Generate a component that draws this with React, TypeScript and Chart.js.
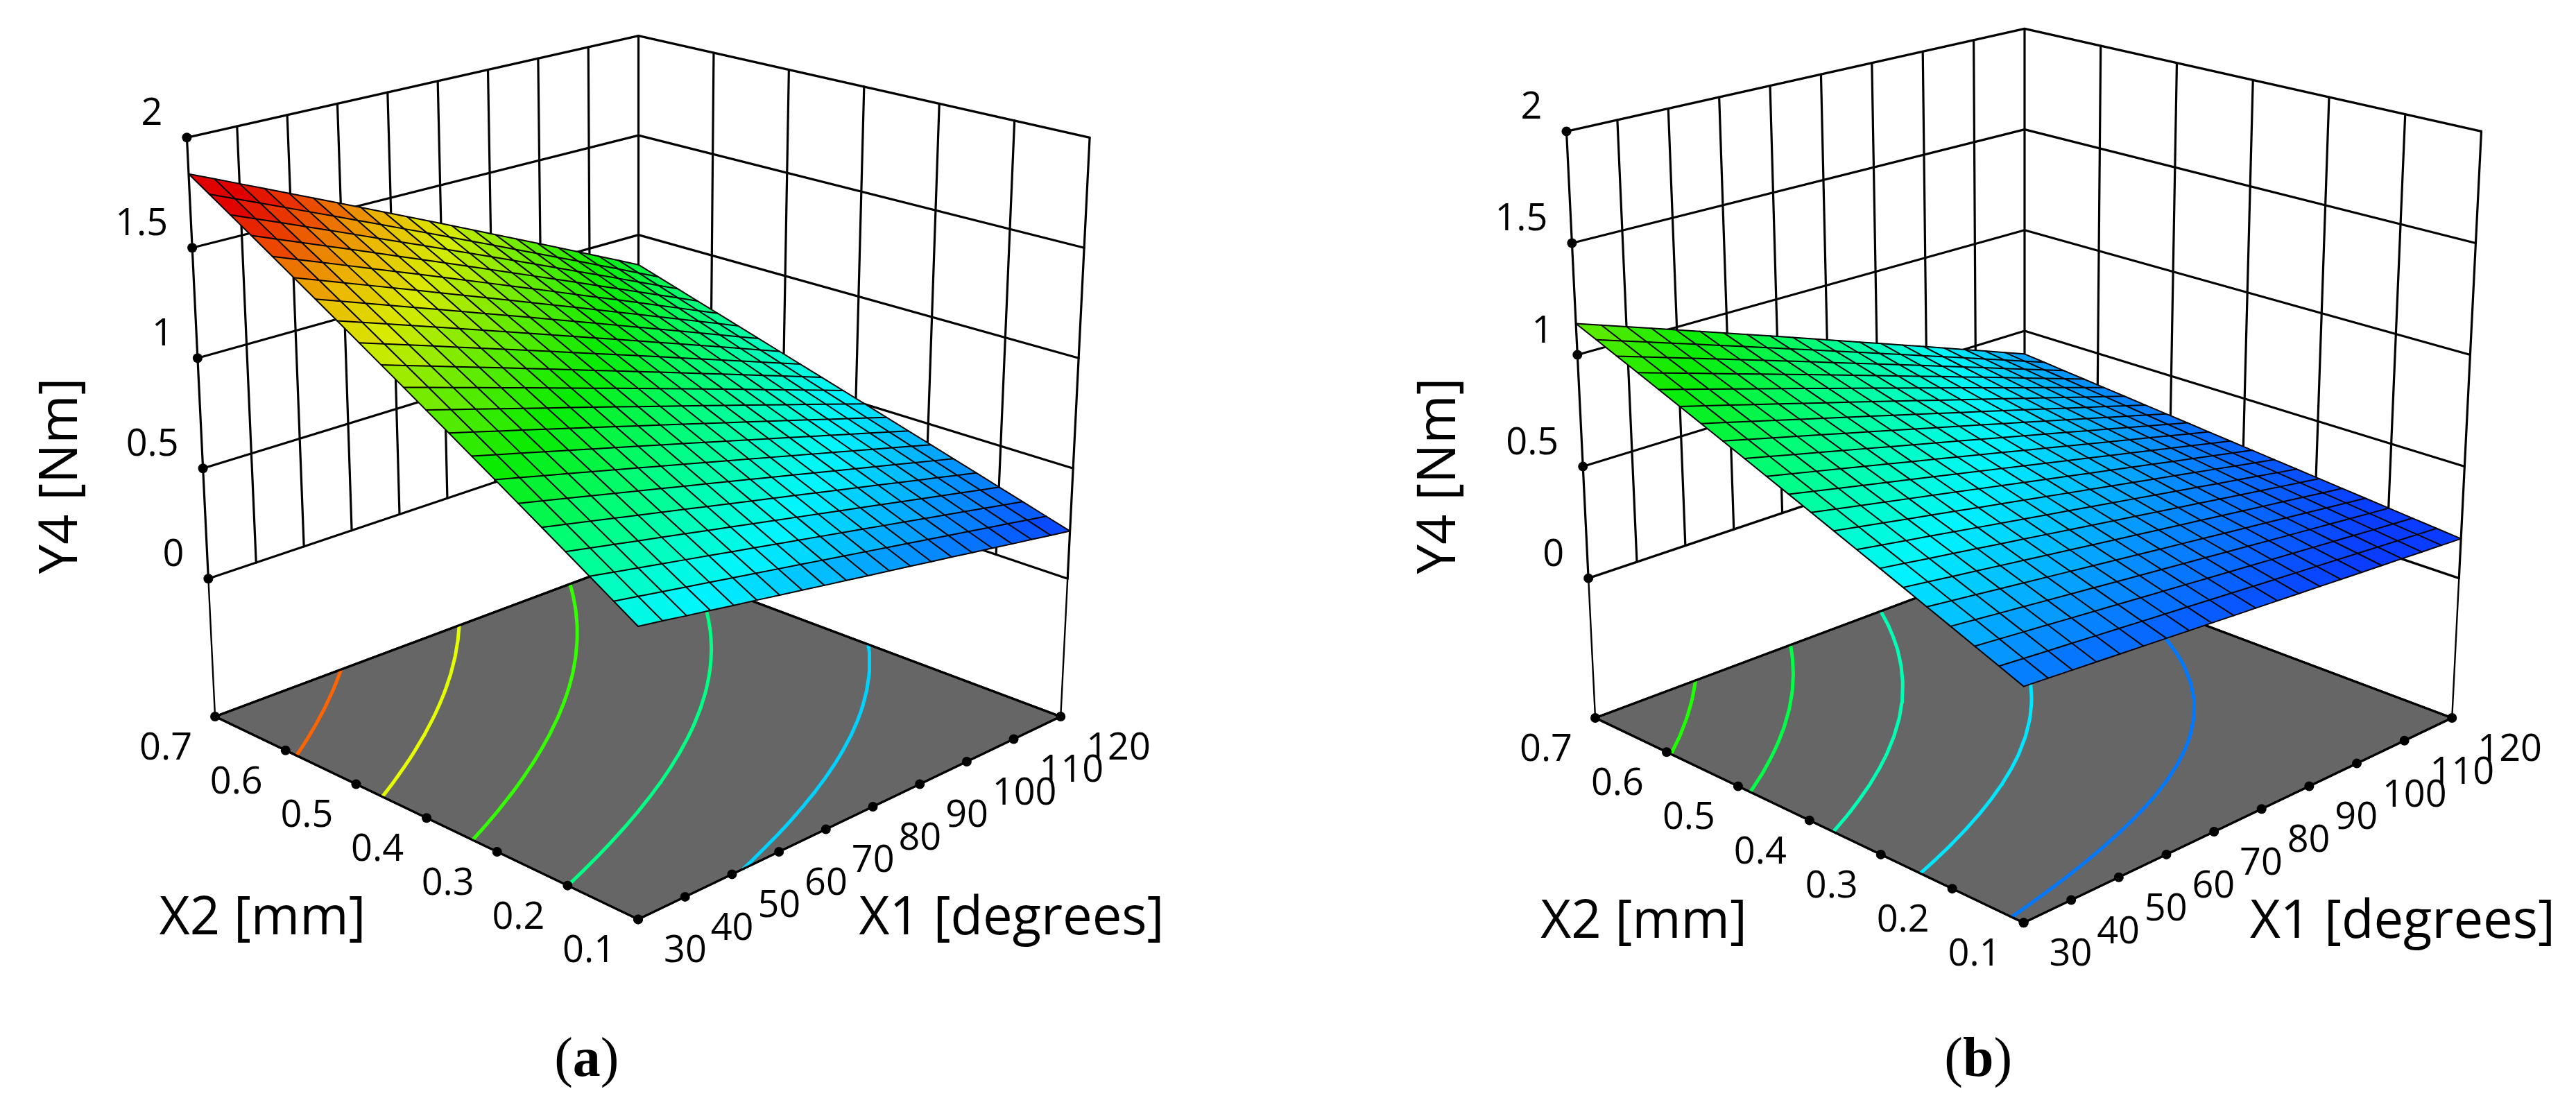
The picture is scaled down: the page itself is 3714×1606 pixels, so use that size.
import React, { useEffect, useRef } from "react";
import { Chart, registerables } from "chart.js";

Chart.register(...registerables);

const X1_TICKS = [30, 40, 50, 60, 70, 80, 90, 100, 110, 120];
const X2_TICKS = [0.1, 0.2, 0.3, 0.4, 0.5, 0.6, 0.7];
const Y4_TICKS = [0, 0.5, 1, 1.5, 2];
const Y4_TICK_TEXT = ["0", "0.5", "1", "1.5", "2"];
const X2_TICK_TEXT = ["0.1", "0.2", "0.3", "0.4", "0.5", "0.6", "0.7"];
const X1_TICK_TEXT = ["30", "40", "50", "60", "70", "80", "90", "100", "110", "120"];
const X1_GRID = [30, 34.5, 39, 43.5, 48, 52.5, 57, 61.5, 66, 70.5, 75, 79.5, 84, 88.5, 93, 97.5, 102, 106.5, 111, 115.5, 120];
const X2_GRID = [0.1, 0.13, 0.16, 0.19, 0.22, 0.25, 0.28, 0.31, 0.34, 0.37, 0.4, 0.43, 0.46, 0.49, 0.52, 0.55, 0.58, 0.61, 0.64, 0.67, 0.7];

// One row per X2_GRID value, one column per X1_GRID value. Y4 in Nm.
const SURFACE_A = [
  [.565,.548,.530,.513,.495,.478,.460,.443,.425,.408,.390,.373,.356,.338,.321,.303,.286,.268,.251,.233,.216],
  [.6285,.6095,.5904,.5714,.5523,.5333,.5143,.4952,.4762,.4571,.4381,.4191,.4000,.3810,.3619,.3429,.3239,.3048,.2858,.2667,.2477],
  [.692,.6714,.6507,.6301,.6095,.5889,.5682,.5476,.5270,.5063,.4857,.4651,.4444,.4238,.4032,.3826,.3619,.3413,.3207,.3000,.2794],
  [.7555,.7333,.7111,.6888,.6666,.6444,.6222,.6000,.5777,.5555,.5333,.5111,.4889,.4666,.4444,.4222,.4000,.3778,.3555,.3333,.3111],
  [.819,.7952,.7714,.7476,.7238,.7,.6761,.6523,.6285,.6047,.5809,.5571,.5333,.5095,.4857,.4619,.4380,.4142,.3904,.3666,.3428],
  [.8825,.8571,.8317,.8063,.7809,.7555,.7301,.7047,.6793,.6539,.6285,.6031,.5777,.5523,.5269,.5015,.4761,.4507,.4253,.3999,.3745],
  [.946,.9190,.8920,.8650,.8380,.8111,.7841,.7571,.7301,.7031,.6761,.6491,.6221,.5951,.5681,.5412,.5142,.4872,.4602,.4332,.4062],
  [1.0095,.9809,.9523,.9238,.8952,.8666,.8380,.8094,.7809,.7523,.7237,.6951,.6665,.6380,.6094,.5808,.5522,.5236,.4951,.4665,.4379],
  [1.073,1.0428,1.0127,.9825,.9523,.9222,.8920,.8618,.8316,.8015,.7713,.7411,.7110,.6808,.6506,.6205,.5903,.5601,.5299,.4998,.4696],
  [1.1365,1.1047,1.0730,1.0412,1.0095,.9777,.9459,.9142,.8824,.8507,.8189,.7871,.7554,.7236,.6919,.6601,.6283,.5966,.5648,.5331,.5013],
  [1.2,1.1667,1.1333,1.0999,1.0666,1.0333,.9999,.9666,.9332,.8999,.8665,.8332,.7998,.7665,.7331,.6998,.6664,.6331,.5997,.5664,.533],
  [1.2635,1.2286,1.1936,1.1587,1.1237,1.0888,1.0539,1.0189,.9840,.9490,.9141,.8792,.8442,.8093,.7743,.7394,.7045,.6695,.6346,.5996,.5647],
  [1.327,1.2905,1.2539,1.2174,1.1809,1.1444,1.1078,1.0713,1.0348,.9982,.9617,.9252,.8886,.8521,.8156,.7791,.7425,.7060,.6695,.6329,.5964],
  [1.3905,1.3524,1.3143,1.2761,1.238,1.1999,1.1618,1.1237,1.0855,1.0474,1.0093,.9712,.9331,.8949,.8568,.8187,.7806,.7425,.7043,.6662,.6281],
  [1.454,1.4143,1.3746,1.3349,1.2952,1.2555,1.2157,1.1760,1.1363,1.0966,1.0569,1.0172,.9775,.9378,.8981,.8584,.8186,.7789,.7392,.6995,.6598],
  [1.5175,1.4762,1.4349,1.3936,1.3523,1.311,1.2697,1.2284,1.1871,1.1458,1.1045,1.0632,1.0219,.9806,.9393,.8980,.8567,.8154,.7741,.7328,.6915],
  [1.581,1.5381,1.4952,1.4523,1.4094,1.3666,1.3237,1.2808,1.2379,1.1950,1.1521,1.1092,1.0663,1.0234,.9805,.9377,.8948,.8519,.8090,.7661,.7232],
  [1.6445,1.6,1.5555,1.5111,1.4666,1.4221,1.3776,1.3331,1.2887,1.2442,1.1997,1.1552,1.1107,1.0663,1.0218,.9773,.9328,.8883,.8439,.7994,.7549],
  [1.708,1.6619,1.6159,1.5698,1.5237,1.4777,1.4316,1.3855,1.3394,1.2934,1.2473,1.2012,1.1552,1.1091,1.063,1.0170,.9709,.9248,.8787,.8327,.7866],
  [1.7715,1.7238,1.6762,1.6285,1.5809,1.5332,1.4855,1.4379,1.3902,1.3426,1.2949,1.2472,1.1996,1.1519,1.1043,1.0566,1.0089,.9613,.9136,.8660,.8183],
  [1.835,1.7858,1.7365,1.6873,1.638,1.5888,1.5395,1.4903,1.441,1.3918,1.3425,1.2933,1.244,1.1948,1.1455,1.0963,1.047,.9978,.9485,.8993,.85],
];

const SURFACE_B = [
  [.317,.31,.303,.296,.289,.282,.275,.268,.261,.254,.247,.24,.233,.226,.219,.212,.205,.198,.191,.184,.177],
  [.3582,.3496,.3411,.3326,.3240,.3155,.3069,.2984,.2899,.2813,.2728,.2643,.2557,.2472,.2386,.2301,.2216,.2130,.2045,.1959,.1874],
  [.3993,.3892,.3791,.3691,.359,.3489,.3388,.3287,.3187,.3086,.2985,.2884,.2783,.2683,.2582,.2481,.238,.2279,.2179,.2078,.1978],
  [.4405,.4289,.4173,.4057,.3941,.3824,.3708,.3592,.3476,.3360,.3244,.3128,.3012,.2896,.2779,.2663,.2547,.2431,.2315,.2199,.2082],
  [.4816,.4685,.4553,.4422,.429,.4159,.4027,.3896,.3764,.3633,.3501,.337,.3238,.3107,.2975,.2844,.2712,.2581,.2449,.2318,.2186],
  [.5228,.5081,.4934,.4787,.464,.4493,.4346,.4200,.4053,.3906,.3759,.3612,.3465,.3318,.3171,.3025,.2878,.2731,.2584,.2437,.229],
  [.5639,.5477,.5314,.5152,.499,.4828,.4665,.4503,.4341,.4178,.4016,.3854,.3692,.3529,.3367,.3205,.3042,.288,.2718,.2556,.2394],
  [.6051,.5873,.5695,.5518,.534,.5162,.4985,.4807,.4630,.4452,.4275,.4097,.3919,.3742,.3564,.3387,.3209,.3031,.2854,.2676,.2498],
  [.6462,.6269,.6076,.5883,.569,.5497,.5304,.5111,.4918,.4725,.4532,.4339,.4146,.3953,.376,.3567,.3374,.3181,.2988,.2795,.2602],
  [.6874,.6666,.6457,.6249,.6040,.5832,.5624,.5415,.5207,.4998,.479,.4582,.4373,.4165,.3956,.3748,.354,.3331,.3123,.2914,.2706],
  [.7285,.7061,.6837,.6614,.639,.6166,.5942,.5718,.5495,.5271,.5047,.4823,.46,.4376,.4152,.3928,.3704,.3481,.3257,.3033,.281],
  [.7697,.7458,.7219,.6979,.674,.6501,.6262,.6023,.5783,.5544,.5305,.5066,.4827,.4587,.4348,.4109,.387,.3631,.3391,.3152,.2914],
  [.8108,.7854,.7599,.7345,.709,.6836,.6581,.6327,.6072,.5818,.5563,.5309,.5054,.48,.4545,.4291,.4036,.3782,.3527,.3273,.3018],
  [.852,.825,.798,.771,.744,.7171,.6901,.6631,.6361,.6091,.5821,.5551,.5281,.5011,.4741,.4472,.4202,.3932,.3662,.3392,.3122],
  [.8931,.8646,.8360,.8075,.779,.7505,.7219,.6934,.6649,.6363,.6078,.5793,.5507,.5222,.4937,.4652,.4366,.4081,.3796,.351,.3226],
  [.9343,.9042,.8742,.8441,.814,.7839,.7539,.7238,.6937,.6637,.6336,.6035,.5735,.5434,.5133,.4833,.4532,.4231,.393,.363,.333],
  [.9754,.9438,.9122,.8806,.849,.8174,.7858,.7542,.7226,.691,.6594,.6278,.5962,.5646,.533,.5014,.4698,.4382,.4066,.375,.3434],
  [1.0166,.9835,.9503,.9172,.8840,.8509,.8178,.7846,.7515,.7183,.6852,.6521,.6189,.5858,.5526,.5195,.4864,.4532,.4201,.3869,.3538],
  [1.0577,1.023,.9883,.9537,.919,.8843,.8496,.8149,.7803,.7456,.7109,.6762,.6415,.6069,.5722,.5375,.5028,.4681,.4335,.3988,.3642],
  [1.0989,1.0627,1.0265,.9902,.954,.9178,.8816,.8454,.8091,.7729,.7367,.7005,.6643,.628,.5918,.5556,.5194,.4832,.4469,.4107,.3746],
  [1.14,1.1023,1.0645,1.0268,.989,.9513,.9135,.8758,.838,.8003,.7625,.7248,.687,.6493,.6115,.5738,.536,.4983,.4605,.4228,.385],
];

const CONTOUR_LEVELS_A = [0.486, 0.756, 1.026, 1.296, 1.566];
const CONTOUR_LEVELS_B = [0.3375, 0.498, 0.6585, 0.819, 0.9795];
const CONTOUR_COLORS_A = ["#00d2ff", "#00ff84", "#34ff00", "#e6ff00", "#ff6400"];
const CONTOUR_COLORS_B = ["#0078ff", "#00e6ff", "#00ffb4", "#00ff46", "#1eff00"];

// Palette stops shared by both surfaces: [fraction of the range, r, g, b]
const COLOR_MIN = 0.216;
const COLOR_SPAN = 1.62;
const PALETTE = [
  [0, 10, 60, 255], [0.2, 0, 245, 255], [0.27, 0, 255, 190], [0.33, 0, 255, 130], [0.46, 10, 235, 0],
  [0.57, 110, 235, 0], [0.67, 215, 235, 0], [0.75, 235, 185, 0], [0.85, 235, 70, 0], [0.93, 225, 0, 0], [1, 225, 0, 0],
];

const FLOOR_Z = -0.625;
const TOP_Z = 2;

type P = [number, number];
type Panel = {
  surface: number[][]; levels: number[]; colors: string[]; caption: string;
  F: P; R: P; L: P; B: P; Ft: P; Rt: P; Lt: P; Bt: P;
  x2Title: P; x1Title: P; yTitle: P; captionAt: P;
};

const PANEL_A: Panel = {
  surface: SURFACE_A, levels: CONTOUR_LEVELS_A, colors: CONTOUR_COLORS_A, caption: "a",
  F: [916.5, 1330], R: [1528, 1035], L: [304.2, 1035], B: [917, 805],
  Ft: [916.5, 390], Rt: [1570, 193], Lt: [263.4, 193], Bt: [917, 45],
  x2Title: [373, 1330], x1Title: [1457, 1330], yTitle: [83, 685], captionAt: [842, 1533],
};
const PANEL_B: Panel = {
  surface: SURFACE_B, levels: CONTOUR_LEVELS_B, colors: CONTOUR_COLORS_B, caption: "b",
  F: [2921.6, 1335], R: [3541.6, 1037], L: [2301.7, 1037], B: [2923, 803.6],
  Ft: [2921.6, 377], Rt: [3584, 184], Lt: [2260, 184], Bt: [2923, 34.7],
  x2Title: [2372, 1335], x1Title: [3470, 1335], yTitle: [2077, 685], captionAt: [2856, 1533],
};

const WIDTH = 3714;
const HEIGHT = 1606;
const WARP = 0.887;
const TEXT_FONT = '"Open Sans"';
const TICK_SIZE = 54;
const TITLE_SIZE = 76;

function mix(a: number, b: number, t: number) { return a + (b - a) * t; }
function project(p: Panel, x1: number, x2: number, z: number, warped = false) {
  let u = (x1 - 30) / 90;
  let v = (x2 - 0.1) / 0.6;
  const w = (z - FLOOR_Z) / (TOP_Z - FLOOR_Z);
  if (warped) {
    u = u / (u + WARP * (1 - u));
    v = v / (v + WARP * (1 - v));
  }
  const pick = (k: 0 | 1) => {
    const low = mix(mix(p.F[k], p.R[k], u), mix(p.L[k], p.B[k], u), v);
    const high = mix(mix(p.Ft[k], p.Rt[k], u), mix(p.Lt[k], p.Bt[k], u), v);
    return mix(low, high, w);
  };
  return { x: pick(0), y: pick(1) };
}
function colorFor(z: number) {
  const t = Math.max(0, Math.min(1, (z - COLOR_MIN) / COLOR_SPAN));
  for (let i = 1; i < PALETTE.length; i++) {
    if (t <= PALETTE[i][0]) {
      const a = PALETTE[i - 1], b = PALETTE[i];
      const f = (t - a[0]) / (b[0] - a[0]);
      return `rgb(${Math.round(mix(a[1], b[1], f))},${Math.round(mix(a[2], b[2], f))},${Math.round(mix(a[3], b[3], f))})`;
    }
  }
  return "rgb(225,0,0)";
}
function contourPath(surface: number[][], level: number) {
  const pts: { a: number; b: number }[] = [];
  for (let j = 0; j < X2_GRID.length; j++) {
    for (let i = 0; i < X1_GRID.length - 1; i++) {
      const p = surface[j][i], q = surface[j][i + 1];
      if ((p - level) * (q - level) <= 0 && p !== q) pts.push({ a: mix(X1_GRID[i], X1_GRID[i + 1], (level - p) / (q - p)), b: X2_GRID[j] });
    }
  }
  for (let i = 0; i < X1_GRID.length; i++) {
    for (let j = 0; j < X2_GRID.length - 1; j++) {
      const p = surface[j][i], q = surface[j + 1][i];
      if ((p - level) * (q - level) <= 0 && p !== q) pts.push({ a: X1_GRID[i], b: mix(X2_GRID[j], X2_GRID[j + 1], (level - p) / (q - p)) });
    }
  }
  pts.sort((m, n) => m.b - n.b || m.a - n.a);
  return pts;
}

function line(data: any[], color: string, width: number, extra: any = {}) {
  return { type: "scatter", data, showLine: true, borderColor: color, borderWidth: width, pointRadius: 0, tension: 0, fill: false, borderCapStyle: "round", borderJoinStyle: "round", ...extra };
}

function panelDatasets(p: Panel) {
  const out: any[] = [];
  const X2_BACK = X2_TICKS[X2_TICKS.length - 1];
  const X1_BACK = X1_TICKS[X1_TICKS.length - 1];
  const X2_FRONT = X2_TICKS[0];
  const X1_FRONT = X1_TICKS[0];
  for (const z of Y4_TICKS) {
    out.push(line([project(p, X1_FRONT, X2_BACK, z), project(p, X1_BACK, X2_BACK, z), project(p, X1_BACK, X2_FRONT, z)], "#000", 3.2));
  }
  for (const x1 of X1_TICKS) {
    out.push(line([project(p, x1, X2_BACK, TOP_Z), project(p, x1, X2_BACK, 0)], "#000", 3.2));
  }
  for (const x2 of X2_TICKS) {
    if (x2 === X2_BACK) continue;
    out.push(line([project(p, X1_BACK, x2, TOP_Z), project(p, X1_BACK, x2, 0)], "#000", 3.2));
  }
  out.push(line([project(p, X1_FRONT, X2_BACK, 0), project(p, X1_FRONT, X2_BACK, FLOOR_Z)], "#000", 2.4));
  out.push(line([project(p, X1_BACK, X2_FRONT, 0), project(p, X1_BACK, X2_FRONT, FLOOR_Z)], "#000", 2.4));
  out.push(line([project(p, X1_BACK, X2_BACK, 0), project(p, X1_BACK, X2_BACK, FLOOR_Z)], "#000", 3.2));
  // floor
  const floor = [
    project(p, X1_FRONT, X2_FRONT, FLOOR_Z), project(p, X1_BACK, X2_FRONT, FLOOR_Z),
    project(p, X1_BACK, X2_BACK, FLOOR_Z), project(p, X1_FRONT, X2_BACK, FLOOR_Z), project(p, X1_FRONT, X2_FRONT, FLOOR_Z),
  ];
  out.push(line(floor, "#000", 3, { fill: "shape", backgroundColor: "#666666" }));
  // contours
  p.levels.forEach((lv, k) => {
    const path = contourPath(p.surface, lv).map((q) => project(p, q.a, q.b, FLOOR_Z, true));
    out.push(line(path, p.colors[k], 5, { borderCapStyle: "butt" }));
  });
  out.push(line(floor, "#000", 3.2));
  // tick dots
  const dots = [
    ...X1_TICKS.map((x) => project(p, x, X2_FRONT, FLOOR_Z)),
    ...X2_TICKS.map((x) => project(p, X1_FRONT, x, FLOOR_Z)),
    ...Y4_TICKS.map((z) => project(p, X1_FRONT, X2_BACK, z)),
  ];
  out.push({ type: "scatter", data: dots, showLine: false, pointRadius: 7, pointBackgroundColor: "#000", pointBorderWidth: 0 });
  // surface cells
  const nI = X1_GRID.length, nJ = X2_GRID.length;
  for (let j = nJ - 2; j >= 0; j--) {
    for (let i = nI - 2; i >= 0; i--) {
      const s = p.surface;
      const corners = [
        project(p, X1_GRID[i], X2_GRID[j], s[j][i], true),
        project(p, X1_GRID[i + 1], X2_GRID[j], s[j][i + 1], true),
        project(p, X1_GRID[i + 1], X2_GRID[j + 1], s[j + 1][i + 1], true),
        project(p, X1_GRID[i], X2_GRID[j + 1], s[j + 1][i], true),
      ];
      const c = colorFor((s[j][i] + s[j][i + 1] + s[j + 1][i] + s[j + 1][i + 1]) / 4);
      out.push(line([...corners, corners[0]], c, 1, { fill: "shape", backgroundColor: c }));
    }
  }
  // mesh
  for (let j = 0; j < nJ; j++) out.push(line(X1_GRID.map((x, i) => project(p, x, X2_GRID[j], p.surface[j][i], true)), "#000", 2));
  for (let i = 0; i < nI; i++) out.push(line(X2_GRID.map((x, j) => project(p, X1_GRID[i], x, p.surface[j][i], true)), "#000", 2));
  return out;
}

function drawPanelText(ctx: CanvasRenderingContext2D, chart: any, p: Panel) {
  const sx = (v: number) => chart.scales.x.getPixelForValue(v);
  const sy = (v: number) => chart.scales.y.getPixelForValue(v);
  ctx.save();
  ctx.fillStyle = "#000";
  ctx.textBaseline = "alphabetic";
  ctx.font = `${TICK_SIZE}px ${TEXT_FONT}`;
  const DIGIT = 19;
  ctx.textAlign = "right";
  Y4_TICKS.forEach((z, k) => {
    const q = project(p, 30, 0.7, z);
    ctx.fillText(Y4_TICK_TEXT[k], sx(q.x) - 35, sy(q.y) - 37 + DIGIT);
  });
  ctx.textAlign = "center";
  X2_TICKS.forEach((x, k) => {
    const q = project(p, 30, x, FLOOR_Z);
    ctx.fillText(X2_TICK_TEXT[k], sx(q.x) - 71, sy(q.y) + 43 + DIGIT);
  });
  ctx.textAlign = "left";
  X1_TICKS.forEach((x, k) => {
    const q = project(p, x, 0.1, FLOOR_Z);
    ctx.fillText(X1_TICK_TEXT[k], sx(q.x) + 37, sy(q.y) + 43 + DIGIT);
  });
  ctx.font = `${TITLE_SIZE}px ${TEXT_FONT}`;
  ctx.textAlign = "center";
  ctx.textBaseline = "middle";
  ctx.fillText("X2 [mm]", sx(p.x2Title[0]), sy(p.x2Title[1]));
  ctx.fillText("X1 [degrees]", sx(p.x1Title[0]), sy(p.x1Title[1]));
  ctx.save();
  ctx.translate(sx(p.yTitle[0]), sy(p.yTitle[1]));
  ctx.rotate(-Math.PI / 2);
  ctx.fillText("Y4 [Nm]", 0, 0);
  ctx.restore();
  // caption: regular parentheses round a bold letter
  const reg = '80px "Liberation Serif"';
  const bold = 'bold 80px "Liberation Serif"';
  ctx.textAlign = "left";
  ctx.textBaseline = "alphabetic";
  ctx.font = reg;
  const wp = ctx.measureText("(").width;
  ctx.font = bold;
  const wl = ctx.measureText(p.caption).width;
  const x0 = sx(p.captionAt[0]) - (wp * 2 + wl) / 2;
  const base = sy(p.captionAt[1]) + 24;
  ctx.font = reg;
  ctx.fillText("(", x0, base);
  ctx.font = bold;
  ctx.fillText(p.caption, x0 + wp, base);
  ctx.font = reg;
  ctx.fillText(")", x0 + wp + wl, base);
  ctx.restore();
}

const textPlugin = {
  id: "panelText",
  afterDatasetsDraw(chart: any) {
    drawPanelText(chart.ctx, chart, PANEL_A);
    drawPanelText(chart.ctx, chart, PANEL_B);
  },
};

export default function App() {
  const ref = useRef<HTMLCanvasElement>(null);
  useEffect(() => {
    const datasets = [...panelDatasets(PANEL_A), ...panelDatasets(PANEL_B)];
    datasets.forEach((d, i) => { d.order = datasets.length - i; });
    const chart = new Chart(ref.current as HTMLCanvasElement, {
      type: "scatter",
      data: { datasets },
      options: {
        animation: false,
        responsive: false,
        events: [],
        layout: { padding: 0 },
        plugins: { legend: { display: false }, tooltip: { enabled: false } },
        scales: {
          x: { type: "linear", min: 0, max: WIDTH, display: false },
          y: { type: "linear", min: 0, max: HEIGHT, reverse: true, display: false },
        },
      },
      plugins: [textPlugin],
    } as any);
    return () => chart.destroy();
  }, []);
  return (
    <div style={{ position: "fixed", left: 0, top: 0, width: WIDTH, height: HEIGHT, background: "#fff" }}>
      <canvas ref={ref} width={WIDTH} height={HEIGHT} style={{ display: "block", width: WIDTH, height: HEIGHT }} />
    </div>
  );
}
